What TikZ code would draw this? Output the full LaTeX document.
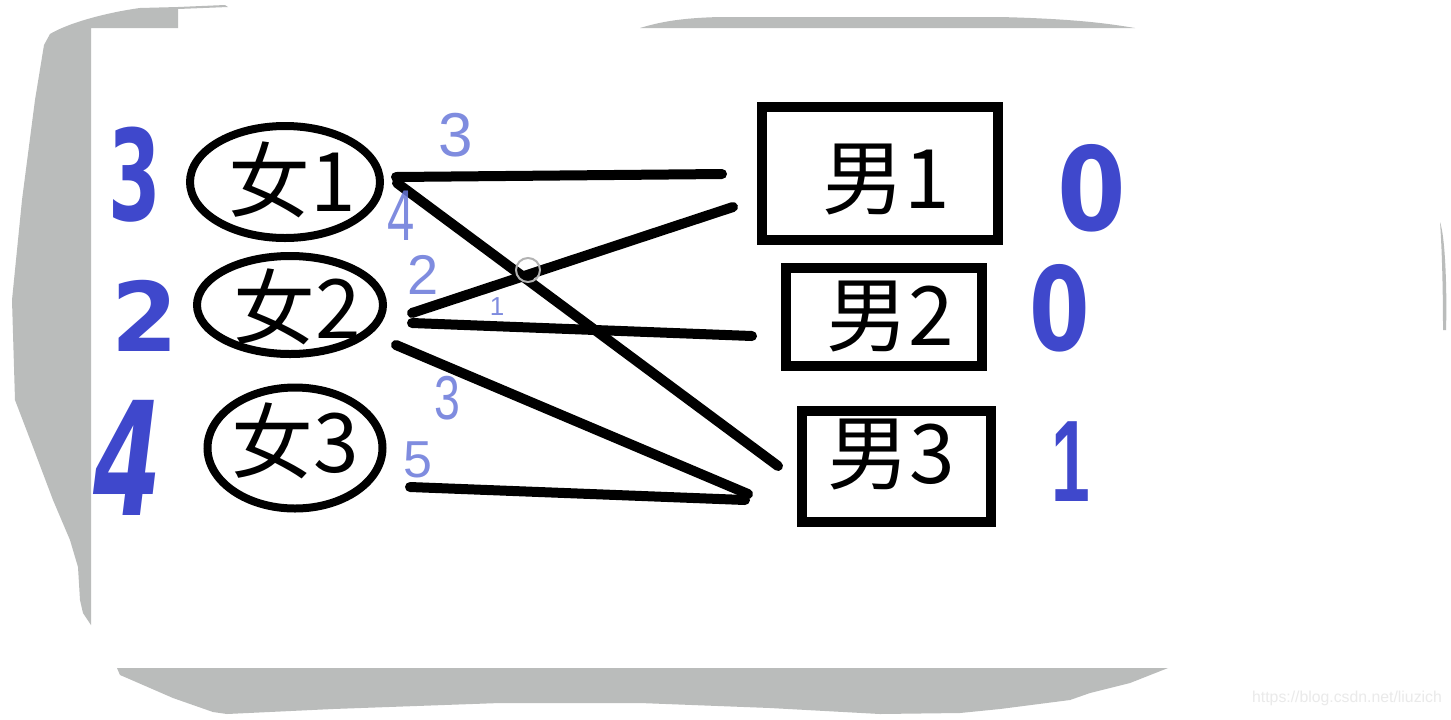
\documentclass[tikz,border=0pt]{standalone}
\usepackage{graphicx}
\usepackage{fontspec}
\usetikzlibrary{shapes.geometric}
\setmainfont{Liberation Sans}
\newfontfamily\cjk{Noto Sans CJK SC}
\newfontfamily\hand{DejaVu Sans}
\definecolor{penblue}{RGB}{63,72,204}
\definecolor{lightpen}{RGB}{105,120,218}
\definecolor{paper}{RGB}{186,188,187}
\definecolor{wmark}{RGB}{234,234,234}
\tikzset{
  girl/.style={draw, ellipse, line width=4pt, inner sep=0pt},
  boy/.style={draw, rectangle, line width=5pt, inner sep=0pt},
  nodetext/.style={inner sep=0pt, font=\cjk\fontsize{41}{41}\selectfont},
  edge/.style={line width=5pt, line cap=round, line join=round},
  bignum/.style={inner sep=0pt, text=penblue},
  smallnum/.style={inner sep=0pt, text=lightpen, opacity=0.85, font=\fontsize{31}{31}\selectfont},
}
\begin{document}
\begin{tikzpicture}[x=0.5pt,y=-0.5pt]
\useasboundingbox (0,0) rectangle (1451,719);
\fill[white] (0,0) rectangle (1451,719);
% torn paper shadow
\fill[paper] (50,34) .. controls (70,22) and (110,12) .. (140,8) -- (178,7) -- (225,5) -- (228,7) -- (178,9) -- (178,28) -- (91,28) -- (91,625) -- (83,613) -- (80,600) -- (78,567) -- (70,540) -- (53,500) -- (33,447) -- (15,400) -- (12,300) -- (22,200) -- (35,100) -- (44,45) -- cycle;
\fill[paper] (640,28) .. controls (660,22) and (680,18) .. (720,17) -- (1000,17) .. controls (1080,19) and (1110,24) .. (1135,28) -- cycle;
\fill[paper] (117,668) -- (1168,668) -- (1130,683) -- (1090,693) -- (1070,700) -- (1000,709) -- (960,713) -- (880,714) -- (770,708) -- (640,703) -- (500,703) -- (333,709) -- (227,714) -- (213,712) -- (173,698) -- (127,678) -- (120,675) -- cycle;
\fill[paper] (1440,222) .. controls (1446,240) and (1447,300) .. (1446,330) -- (1443,330) .. controls (1443,290) and (1442,250) .. (1440,222) -- cycle;

% girls
\node[girl, minimum width=95pt, minimum height=56pt] (w1) at (285,182) {};
\node[nodetext] (w1t) at (292,180) {女1};
\node[girl, minimum width=93pt, minimum height=49pt] (w2) at (290,305) {};
\node[nodetext] (w2t) at (297,307) {女2};
\node[girl, minimum width=87.5pt, minimum height=60.5pt] (w3) at (295,448) {};
\node[nodetext] (w3t) at (295,441) {女3};

% boys
\node[boy, minimum width=118pt, minimum height=66.5pt] (m1) at (880,173.5) {};
\node[nodetext] (m1t) at (886,180) {男1};
\node[boy, minimum width=98pt, minimum height=49pt] (m2) at (884,317) {};
\node[nodetext] (m2t) at (890,317) {男2};
\node[boy, minimum width=94.5pt, minimum height=55.5pt] (m3) at (896.5,466.5) {};
\node[nodetext] (m3t) at (891,455) {男3};

% connector end points
\coordinate (a1) at (396,177); \coordinate (b1) at (722,174);
\coordinate (a2) at (397,183); \coordinate (b2) at (778,466);
\coordinate (a3) at (412,313); \coordinate (b3) at (733,207);
\coordinate (a4) at (412,323); \coordinate (b4) at (752,336);
\coordinate (a5) at (396,345); \coordinate (b5) at (748,494);
\coordinate (a6) at (410,487); \coordinate (b6) at (745,500);
\draw[edge] (a1) -- (b1);
\draw[edge] (a2) -- (b2);
\draw[edge] (a3) -- (b3);
\draw[edge] (a4) -- (b4);
\draw[edge] (a5) -- (b5);
\draw[edge] (a6) -- (b6);

% small marker circle
\draw[gray!60, line width=1pt] (528,270) circle[radius=12];

% big handwritten labels
\node[bignum, font=\hand\bfseries\fontsize{63}{63}\selectfont] (s1) at (135,175) {\scalebox{0.6}[1]{3}};
\node[bignum, font=\hand\bfseries\fontsize{48}{48}\selectfont] (s2) at (145,316) {2};
\node[bignum, font=\hand\bfseries\itshape\fontsize{79}{79}\selectfont] (s3) at (128,458) {\scalebox{0.62}[1]{4}};
\node[bignum, font=\hand\bfseries\fontsize{58}{58}\selectfont] (t1) at (1092,188) {\scalebox{0.85}[1]{0}};
\node[bignum, font=\hand\bfseries\fontsize{58}{58}\selectfont] (t2) at (1060,308) {\scalebox{0.75}[1]{0}};
\node[bignum, font=\bfseries\fontsize{58}{58}\selectfont] (t3) at (1071,462) {\scalebox{0.6}[1]{1}};

% small weights
\node[smallnum] (c1) at (456,135) {3};
\node[smallnum, font=\fontsize{36}{36}\selectfont] (c2) at (401,216) {\scalebox{0.68}[1]{4}};
\node[smallnum, font=\fontsize{28}{28}\selectfont] (c3) at (423,275) {2};
\node[smallnum, font=\fontsize{13}{13}\selectfont] (c4) at (497,307) {1};
\node[smallnum] (c5) at (447,398) {\scalebox{0.75}[1]{3}};
\node[smallnum, font=\fontsize{26}{26}\selectfont] (c6) at (418,460) {5};

% watermark
\node[inner sep=0pt, text=wmark, font=\fontsize{7.9}{7.9}\selectfont] (wm) at (1347,698) {https://blog.csdn.net/liuzich};
\end{tikzpicture}
\end{document}
